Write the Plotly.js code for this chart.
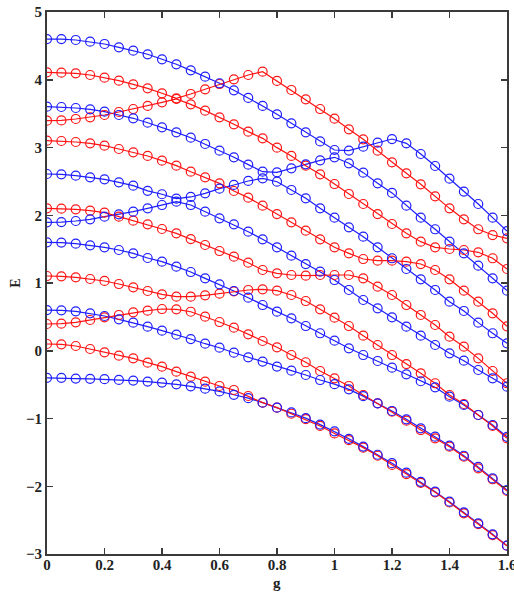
<!DOCTYPE html>
<html>
<head>
<meta charset="utf-8">
<script src="https://cdn.plot.ly/plotly-3.0.1.min.js"></script>
<style>html,body{margin:0;padding:0;background:#fff;}#chart{width:514px;height:593px;}</style>
</head>
<body>
<div id="chart"></div>
<script>
const g = [0,0.05,0.1,0.15,0.2,0.25,0.3,0.35,0.4,0.45,0.5,0.55,0.6,0.65,0.7,0.75,0.8,0.85,0.9,0.95,1.0,1.05,1.1,1.15,1.2,1.25,1.3,1.35,1.4,1.45,1.5,1.55,1.6];

// blue levels (lowest to highest)
const B1 = [-0.40,-0.40,-0.41,-0.415,-0.42,-0.43,-0.44,-0.455,-0.47,-0.495,-0.525,-0.56,-0.60,-0.65,-0.70,-0.766,-0.84,-0.91,-0.995,-1.09,-1.19,-1.30,-1.415,-1.535,-1.66,-1.80,-1.935,-2.08,-2.228,-2.385,-2.547,-2.709,-2.877];
const B2 = [0.601,0.597,0.582,0.553,0.513,0.464,0.414,0.355,0.296,0.237,0.173,0.104,0.045,-0.029,-0.097,-0.16,-0.234,-0.294,-0.358,-0.432,-0.493,-0.57,-0.67,-0.776,-0.889,-1.012,-1.145,-1.268,-1.401,-1.55,-1.715,-1.885,-2.055];
const B3 = [1.60,1.596,1.58,1.556,1.527,1.487,1.437,1.369,1.315,1.241,1.162,1.069,0.98,0.882,0.783,0.675,0.577,0.479,0.365,0.258,0.148,0.036,-0.063,-0.151,-0.25,-0.348,-0.45,-0.54,-0.678,-0.80,-0.948,-1.096,-1.27];
const B4 = [1.896,1.90,1.915,1.94,1.979,2.014,2.053,2.102,2.151,2.20,2.151,2.053,1.955,1.866,1.757,1.645,1.527,1.404,1.28,1.167,1.044,0.897,0.749,0.626,0.494,0.355,0.222,0.085,-0.038,-0.147,-0.284,-0.407,-0.53];
const B5 = [2.609,2.604,2.584,2.56,2.53,2.486,2.437,2.36,2.31,2.245,2.27,2.324,2.392,2.447,2.506,2.545,2.495,2.373,2.25,2.102,1.964,1.822,1.684,1.527,1.365,1.207,1.054,0.897,0.724,0.587,0.415,0.258,0.11];
const B6 = [3.603,3.598,3.583,3.563,3.529,3.48,3.431,3.366,3.298,3.224,3.145,3.052,2.953,2.855,2.747,2.643,2.634,2.693,2.752,2.811,2.855,2.767,2.629,2.471,2.33,2.141,1.964,1.793,1.61,1.438,1.256,1.069,0.887];
const B7 = [4.60,4.60,4.587,4.562,4.528,4.479,4.429,4.376,4.302,4.228,4.139,4.045,3.948,3.844,3.731,3.613,3.49,3.357,3.224,3.09,2.963,2.954,3.012,3.071,3.125,3.062,2.904,2.727,2.54,2.35,2.166,1.964,1.767];

// red levels (lowest to highest)
const R1 = [0.10,0.095,0.07,0.026,-0.023,-0.072,-0.112,-0.176,-0.235,-0.309,-0.383,-0.457,-0.52,-0.579,-0.668,-0.766,-0.84,-0.93,-1.01,-1.11,-1.22,-1.32,-1.43,-1.55,-1.685,-1.82,-1.95,-2.09,-2.24,-2.40,-2.56,-2.72,-2.877];
const R2 = [0.395,0.40,0.419,0.454,0.493,0.528,0.567,0.592,0.616,0.612,0.576,0.503,0.424,0.34,0.242,0.144,0.051,-0.063,-0.17,-0.299,-0.407,-0.52,-0.653,-0.776,-0.899,-1.032,-1.17,-1.293,-1.416,-1.563,-1.735,-1.897,-2.07];
const R3 = [1.103,1.099,1.084,1.059,1.03,0.985,0.936,0.882,0.833,0.798,0.798,0.818,0.842,0.877,0.897,0.907,0.887,0.823,0.734,0.612,0.488,0.365,0.222,0.085,-0.063,-0.196,-0.333,-0.48,-0.653,-0.786,-0.948,-1.11,-1.293];
const R4 = [2.102,2.097,2.088,2.068,2.038,1.979,1.92,1.866,1.797,1.733,1.649,1.561,1.472,1.389,1.30,1.192,1.143,1.118,1.108,1.118,1.118,1.118,1.069,0.946,0.823,0.675,0.528,0.38,0.208,0.06,-0.112,-0.299,-0.48];
const R5 = [3.101,3.096,3.081,3.061,3.027,2.978,2.929,2.875,2.806,2.732,2.643,2.56,2.471,2.358,2.26,2.141,2.018,1.896,1.772,1.645,1.527,1.438,1.354,1.329,1.329,1.315,1.28,1.192,1.054,0.887,0.724,0.553,0.361];
const R6 = [3.396,3.40,3.421,3.445,3.48,3.524,3.568,3.613,3.667,3.716,3.637,3.544,3.445,3.342,3.234,3.135,2.998,2.875,2.732,2.604,2.461,2.314,2.166,2.018,1.871,1.733,1.61,1.527,1.502,1.487,1.453,1.365,1.207];
const R7 = [4.109,4.104,4.095,4.07,4.031,3.986,3.932,3.873,3.8,3.726,3.79,3.859,3.937,4.006,4.07,4.119,3.982,3.849,3.711,3.568,3.425,3.268,3.121,2.953,2.781,2.619,2.457,2.28,2.102,1.94,1.793,1.708,1.66];

const blueSeries = [B1,B2,B3,B4,B5,B6,B7];
const redSeries = [R1,R2,R3,R4,R5,R6,R7];
const BLUE = 'rgb(30,30,255)';
const RED = 'rgb(255,20,20)';

function lineTrace(y, c){ return {x:g, y:y, mode:'lines', type:'scatter', line:{color:c, width:1.2}, hoverinfo:'skip', showlegend:false}; }
function markTrace(y, c){ return {x:g, y:y, mode:'markers', type:'scatter', marker:{symbol:'circle-open', size:9, color:c, line:{color:c, width:1.2}}, showlegend:false}; }

const traces = [];
blueSeries.forEach(s => traces.push(lineTrace(s, BLUE)));
redSeries.forEach(s => traces.push(lineTrace(s, RED)));
redSeries.forEach(s => traces.push(markTrace(s, RED)));
blueSeries.forEach(s => traces.push(markTrace(s, BLUE)));

const tickFont = {family:'Liberation Serif, Times New Roman, serif', size:15, color:'#222', weight:'bold'};
const titleFont = {family:'Liberation Serif, serif', size:15, color:'#222', weight:'bold'};
const axisCommon = {
  showline:true, linecolor:'#3a3a3a', linewidth:2, mirror:'ticks',
  ticks:'inside', ticklen:6, tickwidth:1.5, tickcolor:'#3a3a3a',
  showgrid:false, zeroline:false, tickfont:tickFont, automargin:false,
  ticklabeloverflow:'allow'
};

const layout = {
  width:514, height:593,
  margin:{l:47, r:7, t:12, b:39},
  paper_bgcolor:'#fff', plot_bgcolor:'#fff',
  xaxis: Object.assign({}, axisCommon, {
    range:[0,1.6], dtick:0.2, tick0:0, ticklabelstandoff:-4
  }),
  yaxis: Object.assign({}, axisCommon, {
    range:[-3,5], dtick:1, tick0:0,
    title:{text:'E', font:Object.assign({}, titleFont, {size:14}), standoff:2}
  }),
  annotations:[{
    text:'g', xref:'paper', yref:'paper', x:0.5, y:-0.053,
    xanchor:'center', yanchor:'middle', showarrow:false, borderpad:0, font:titleFont
  }]
};

Plotly.newPlot('chart', traces, layout, {staticPlot:true, displayModeBar:false});
</script>
</body>
</html>
